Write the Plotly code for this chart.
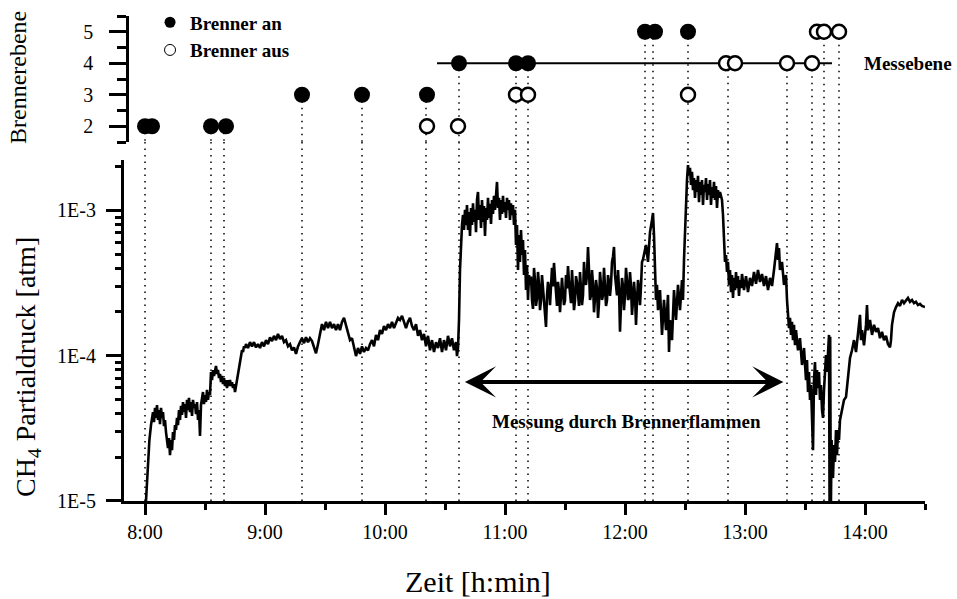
import math
import plotly.graph_objects as go

# ---------------- data (time in minutes since midnight) ----------------
time_min = [
    480.5, 481, 481.5, 482.2, 483, 483.5, 484, 484.5, 485, 485.5, 486, 486.5, 487, 487.5, 488, 488.5, 489, 489.5, 490,
    490.5, 491, 491.5, 492, 492.5, 493, 493.5, 494, 494.5, 495, 495.5, 496, 496.5, 497, 497.5, 498, 498.5, 499, 499.5,
    500, 500.5, 501, 501.5, 502, 502.5, 503, 503.5, 504, 504.5, 505, 505.5, 506, 506.5, 507, 507.5, 508, 508.5, 509,
    509.5, 510, 510.5, 511, 511.5, 512, 512.5, 513, 513.5, 514, 514.5, 515, 515.5, 516, 516.5, 517, 517.5, 518, 518.5,
    519, 519.5, 520, 520.5, 521, 521.5, 522, 522.5, 523, 523.5, 524, 524.5, 525, 525.5, 526, 526.5, 527, 527.5, 528,
    528.5, 529, 529.5, 530, 530.5, 531.5, 532.5, 533.5, 534.5, 535.5, 536.5, 537.5, 538.5, 539.5, 540.5, 541.5, 542.5,
    543.5, 544.5, 545.5, 546.5, 547.5, 548.5, 549.5, 550.5, 551.5, 552.5, 553.5, 554.5, 555.5, 556.5, 557.5, 558.5,
    559.5, 560.5, 561.5, 562.5, 563.5, 564.5, 565.5, 566.5, 567.5, 568.5, 569.5, 570.5, 571.5, 572.5, 573.5, 574.5,
    575.5, 576.5, 577.5, 578.5, 579.5, 580.5, 581.5, 582.5, 583.5, 584.5, 585.5, 586.5, 587.5, 588.5, 589.5, 590.5,
    591.5, 592.5, 593.5, 594.5, 595.5, 596.5, 597.5, 598.5, 599.5, 600.5, 601.5, 602.5, 603.5, 604.5, 605.5, 606.5,
    607.5, 608.5, 609.5, 610.5, 611.5, 612.5, 613.5, 614.5, 615.5, 616.5, 617.5, 618.5, 619.5, 620.5, 621.5, 622.5,
    623.5, 624.5, 625.5, 626.5, 627.5, 628.5, 629.5, 630.5, 631.5, 632.5, 633.5, 634.5, 635.5, 636, 636.5, 637, 637.5,
    638, 638.5, 639, 639.5, 640, 640.5, 641, 641.5, 642, 642.5, 643, 643.5, 644, 644.5, 645, 645.5, 646, 646.5, 647,
    647.5, 648, 648.5, 649, 649.5, 650, 650.5, 651, 651.5, 652, 652.5, 653, 653.5, 654, 654.5, 655, 655.5, 656, 656.5,
    657, 657.5, 658, 658.5, 659, 659.5, 660, 660.5, 661, 661.5, 662, 662.5, 663, 663.5, 664, 664.5, 665, 665.5, 666,
    666.5, 667, 667.5, 668, 668.5, 669, 669.5, 670, 670.5, 671, 671.5, 672, 672.5,
    673, 673.5, 674, 674.5, 675, 675.5, 676, 676.5, 677, 677.5, 678, 678.5, 679, 679.5, 680, 680.5, 681, 681.5,
    682, 682.5, 683, 683.5, 684, 684.5, 685, 685.5, 686, 686.5, 687, 687.5, 688, 688.5, 689, 689.5, 690, 690.5,
    691, 691.5, 692, 692.5, 693, 693.5, 694, 694.5, 695, 695.5, 696, 696.5, 697, 697.5, 698, 698.5, 699, 699.5,
    700, 700.5, 701, 701.5, 702, 702.5, 703, 703.5, 704, 704.5, 705, 705.5, 706, 706.5, 707, 707.5, 708, 708.5,
    709, 709.5, 710, 710.5, 711, 711.5, 712, 712.5, 713, 713.5, 714, 714.5, 715, 715.5, 716, 716.5, 717, 717.5,
    718, 718.5, 719, 719.5, 720, 720.5, 721, 721.5, 722, 722.5, 723, 723.5, 724, 724.5, 725, 725.5, 726, 726.5,
    727, 727.5, 728, 728.5, 729, 729.5,
    730.5, 731.5, 732.5, 733.5, 734, 734.5, 735, 735.5, 736, 736.5, 737.5, 738.5, 739.5,
    740.5, 741.5, 742, 742.5, 743.5, 744.5, 745.5, 746.5, 747.5, 748.5, 749, 749.5, 750, 750.5, 751, 751.5, 752,
    752.5, 753, 753.5, 754, 754.5, 755, 755.5, 756, 756.5, 757, 757.5, 758, 758.5, 759, 759.5, 760, 760.5, 761,
    761.5, 762, 762.5, 763, 763.5, 764, 764.5, 765, 765.5, 766, 766.5, 767, 767.5, 768.5, 769, 769.5, 770, 770.5,
    771, 771.5, 772, 772.5, 773, 773.5, 774, 774.5, 775, 775.5, 776, 776.5, 777, 777.5, 778, 778.5, 779.5, 780.5,
    781.5, 782.5, 783.5, 784.5, 785.5, 786.5, 787.5, 788.5, 789.5, 790.5, 791.5, 792.5, 793.5, 794.5, 795.5, 796,
    796.5, 797, 797.5, 798.5, 799.5, 800.5, 801, 801.5, 802, 802.5, 803, 803.5, 804, 804.5, 805, 805.5, 806.5, 807.5,
    808.5, 809.5, 810.5, 811, 811.5, 812, 812.5, 813, 813.5, 814, 814.5, 815, 815.5, 816, 816.5, 817, 817.5, 818,
    818.5, 819, 819.5, 820, 820.5, 821, 821.5, 822, 822.3, 822.6, 822.9, 823.3, 823.5, 824, 824.5, 825, 825.5, 826,
    826.5, 827, 827.5, 828.5, 829.5, 830.5, 831.5, 832.5, 833.5, 834.5, 835.5, 836.5, 837.5, 838, 838.5, 839.5,
    840.5, 841, 841.5, 842.5, 843.5, 844.5, 845.5, 846.5, 847.5, 848.5, 849.5, 850.5, 851.5, 852.5, 853, 853.5, 854,
    854.5, 855.5, 856.5, 857.5, 858.5, 859.5, 860.5, 861.5, 862.5, 863.5, 864.5, 865.5, 866.5, 867.5, 868.5, 870,
]
ch4_atm = [
    1.00e-5, 1.39e-5, 1.91e-5, 2.63e-5, 3.33e-5, 3.73e-5, 4.09e-5, 3.49e-5, 4.37e-5, 3.73e-5, 4.58e-5, 3.61e-5, 4.23e-5,
    3.38e-5, 4.37e-5, 3.73e-5, 4.09e-5, 3.28e-5, 3.61e-5,
    2.98e-5, 2.63e-5, 2.31e-5, 2.71e-5, 2.07e-5, 2.63e-5, 2.24e-5, 2.98e-5, 2.63e-5, 3.33e-5, 3.08e-5, 3.73e-5, 3.33e-5,
    4.23e-5, 3.61e-5, 4.51e-5, 3.91e-5, 4.80e-5, 4.09e-5,
    4.65e-5, 3.73e-5, 4.96e-5, 4.23e-5, 5.12e-5, 4.09e-5, 4.80e-5, 3.85e-5, 4.96e-5, 4.37e-5, 4.65e-5, 3.97e-5, 4.80e-5,
    3.61e-5, 4.23e-5, 2.80e-5, 4.58e-5, 4.96e-5, 5.62e-5,
    4.65e-5, 5.36e-5, 4.80e-5, 5.81e-5, 4.96e-5, 5.62e-5, 5.36e-5, 7.72e-5, 6.80e-5, 7.97e-5, 7.25e-5, 8.23e-5, 8.50e-5,
    7.48e-5, 7.97e-5, 7.02e-5, 7.48e-5, 6.58e-5, 7.25e-5,
    6.38e-5, 7.02e-5, 6.18e-5, 6.80e-5, 5.99e-5, 6.80e-5, 6.18e-5, 6.80e-5, 6.18e-5, 6.58e-5, 5.99e-5, 6.38e-5, 5.62e-5,
    6.18e-5, 6.80e-5, 7.72e-5, 8.50e-5, 9.34e-5, 9.94e-5,
    1.09e-4, 1.06e-4, 1.16e-4, 1.13e-4, 1.20e-4, 1.13e-4, 1.24e-4, 1.16e-4, 1.24e-4, 1.14e-4, 1.20e-4, 1.13e-4, 1.24e-4,
    1.16e-4, 1.28e-4, 1.20e-4, 1.34e-4,
    1.26e-4, 1.37e-4, 1.28e-4, 1.41e-4, 1.30e-4, 1.37e-4, 1.24e-4, 1.28e-4, 1.16e-4, 1.20e-4, 1.09e-4, 1.14e-4, 1.03e-4,
    1.16e-4, 1.24e-4, 1.32e-4,
    1.22e-4, 1.34e-4, 1.24e-4, 1.32e-4, 1.26e-4, 1.16e-4, 1.04e-4, 1.20e-4, 1.41e-4, 1.65e-4, 1.50e-4, 1.71e-4, 1.55e-4,
    1.71e-4, 1.55e-4, 1.65e-4,
    1.50e-4, 1.65e-4, 1.50e-4, 1.71e-4, 1.82e-4, 1.60e-4, 1.41e-4, 1.28e-4, 1.32e-4, 1.16e-4, 9.94e-5, 1.13e-4, 1.03e-4,
    1.16e-4, 1.06e-4, 1.13e-4,
    1.09e-4, 1.20e-4, 1.28e-4, 1.16e-4, 1.39e-4, 1.28e-4, 1.50e-4, 1.41e-4, 1.60e-4, 1.50e-4, 1.65e-4, 1.55e-4, 1.71e-4,
    1.55e-4, 1.71e-4, 1.82e-4,
    1.76e-4, 1.88e-4, 1.71e-4, 1.55e-4, 1.71e-4, 1.82e-4, 1.60e-4, 1.50e-4, 1.65e-4, 1.37e-4, 1.50e-4, 1.28e-4, 1.41e-4,
    1.16e-4, 1.37e-4, 1.09e-4,
    1.28e-4, 1.06e-4, 1.24e-4, 1.13e-4, 1.32e-4, 1.06e-4, 1.28e-4, 1.09e-4, 1.37e-4, 1.16e-4, 1.32e-4, 1.09e-4, 1.24e-4,
    9.94e-5, 1.13e-4, 1.76e-4, 3.89e-4,
    6.26e-4, 7.93e-4, 9.30e-4, 7.33e-4, 1.01e-3, 7.93e-4, 1.09e-3, 7.33e-4, 9.75e-4, 6.66e-4, 1.04e-3, 7.93e-4, 1.12e-3,
    8.32e-4, 1.01e-3, 7.09e-4, 1.18e-3, 1.34e-3, 8.59e-4,
    1.09e-3, 7.57e-4, 1.18e-3, 8.32e-4, 1.07e-3, 6.66e-4, 1.04e-3, 8.59e-4, 1.22e-3, 8.87e-4, 1.11e-3, 8.06e-4, 1.18e-3,
    9.45e-4, 1.26e-3, 1.01e-3, 1.30e-3, 1.57e-3, 1.04e-3,
    1.22e-3, 8.59e-4, 1.18e-3, 9.45e-4, 1.26e-3, 9.75e-4, 1.14e-3, 8.87e-4, 1.22e-3, 1.01e-3, 1.18e-3, 8.59e-4, 1.12e-3,
    9.30e-4, 1.09e-3, 7.93e-4, 1.01e-3, 5.78e-4, 7.93e-4,
    3.89e-4, 6.77e-4, 4.42e-4, 7.33e-4, 4.93e-4, 6.26e-4, 3.59e-4, 5.34e-4, 2.83e-4, 4.21e-4, 2.42e-4, 3.59e-4, 3.07e-4,
    3.5e-4, 2.42e-4, 2.1e-4, 4.02e-4, 3.3e-4, 2.20e-4, 2.5e-4, 3.77e-4, 3.1e-4, 2.06e-4, 2.4e-4, 3.59e-4, 3.0e-4,
    2.42e-4, 2.0e-4, 1.58e-4, 2.6e-4, 3.22e-4, 2.9e-4, 2.23e-4, 3.0e-4, 4.02e-4, 3.0e-4, 4.35e-4, 3.4e-4, 2.42e-4,
    2.2e-4, 3.22e-4, 2.8e-4, 1.99e-4, 2.6e-4, 3.43e-4, 2.7e-4, 2.23e-4, 2.4e-4, 3.59e-4, 2.9e-4, 4.14e-4, 3.2e-4,
    2.62e-4, 2.3e-4, 3.89e-4, 3.0e-4, 2.06e-4, 2.4e-4, 3.53e-4, 3.2e-4, 2.42e-4, 2.2e-4, 3.77e-4, 3.0e-4, 2.23e-4,
    2.6e-4, 4.42e-4, 3.3e-4, 3.07e-4, 3.6e-4, 5.60e-4, 3.9e-4, 2.42e-4, 2.6e-4, 3.89e-4, 3.1e-4, 1.99e-4, 2.5e-4,
    3.32e-4, 2.9e-4, 1.82e-4, 2.3e-4, 3.77e-4, 3.1e-4, 2.42e-4, 2.6e-4, 4.02e-4, 3.0e-4, 2.20e-4, 2.4e-4, 3.59e-4,
    3.2e-4, 2.58e-4, 3.1e-4, 4.42e-4, 4.8e-4, 5.60e-4, 3.6e-4, 2.83e-4, 2.6e-4, 3.89e-4, 2.9e-4, 1.46e-4, 2.2e-4,
    3.43e-4, 3.0e-4, 2.06e-4, 2.6e-4, 4.02e-4, 3.3e-4, 2.42e-4, 2.5e-4, 3.77e-4, 3.0e-4, 1.91e-4, 2.4e-4, 3.22e-4,
    2.6e-4, 1.63e-4, 2.4e-4, 3.32e-4, 2.9e-4, 2.23e-4, 3.0e-4, 4.42e-4, 4.6e-4, 4.93e-4,
    5.78e-4, 4.42e-4, 7.09e-4, 8.59e-4, 9.60e-4, 6.77e-4, 4.56e-4, 2.42e-4, 3.07e-4,
    2.06e-4, 2.83e-4, 1.39e-4, 2.42e-4,
    1.50e-4, 2.62e-4, 1.06e-4, 1.76e-4, 1.28e-4, 2.83e-4, 1.76e-4, 3.07e-4, 2.06e-4, 3.32e-4, 2.42e-4, 4.56e-4, 7.33e-4,
    1.18e-3, 1.62e-3, 2.05e-3, 1.75e-3,
    1.96e-3, 1.50e-3, 1.84e-3, 1.38e-3, 1.67e-3, 1.22e-3, 1.62e-3, 1.34e-3, 1.73e-3, 1.14e-3, 1.57e-3, 1.28e-3, 1.62e-3,
    1.09e-3, 1.50e-3, 1.34e-3, 1.67e-3, 1.18e-3,
    1.52e-3, 1.28e-3, 1.62e-3, 1.09e-3, 1.45e-3, 1.22e-3, 1.57e-3, 1.18e-3, 1.47e-3, 1.04e-3, 1.38e-3, 1.22e-3, 1.34e-3,
    1.18e-3, 9.30e-4, 6.26e-4, 4.42e-4, 4.93e-4,
    3.77e-4, 4.42e-4, 3.07e-4, 3.89e-4, 2.74e-4, 3.59e-4, 2.50e-4, 3.43e-4, 2.83e-4, 3.77e-4, 2.92e-4, 3.53e-4, 2.58e-4,
    3.32e-4, 2.92e-4, 3.65e-4, 2.83e-4, 3.53e-4,
    2.74e-4, 3.43e-4, 3.02e-4, 3.77e-4, 3.12e-4, 3.89e-4, 3.22e-4, 3.65e-4, 3.02e-4, 3.53e-4, 2.83e-4, 3.43e-4, 3.02e-4,
    3.89e-4, 5.34e-4, 5.96e-4,
    4.56e-4, 5.51e-4, 3.89e-4, 4.42e-4, 3.07e-4, 3.59e-4, 2.42e-4, 1.76e-4, 1.55e-4, 1.82e-4, 1.39e-4, 1.71e-4, 1.28e-4,
    1.63e-4, 1.18e-4, 1.50e-4, 1.09e-4, 1.32e-4,
    8.63e-5, 1.13e-4, 6.80e-5, 9.34e-5, 5.62e-5, 7.72e-5, 4.96e-5, 6.28e-5, 4.23e-5, 2.24e-5, 6.80e-5, 9.04e-5, 5.36e-5,
    7.97e-5, 5.99e-5, 7.72e-5, 4.96e-5, 6.28e-5,
    4.23e-5, 3.73e-5, 5.81e-5, 7.97e-5, 1.01e-4, 7.72e-5, 1.09e-4, 1.39e-4, 8.0e-6, 1.35e-4, 8.0e-6, 2.63e-5, 1.63e-5,
    1.44e-5, 2.43e-5, 1.86e-5, 3.08e-5, 2.07e-5,
    3.08e-5, 2.63e-5, 3.61e-5, 4.23e-5, 4.96e-5, 5.19e-5, 7.36e-5, 9.64e-5, 1.09e-4, 1.28e-4, 1.06e-4, 1.41e-4, 1.91e-4,
    1.28e-4, 1.50e-4, 1.18e-4,
    1.63e-4, 2.23e-4, 1.50e-4, 1.76e-4, 1.39e-4, 1.63e-4, 1.46e-4, 1.55e-4, 1.32e-4, 1.46e-4, 1.28e-4, 1.37e-4, 1.20e-4,
    1.14e-4, 1.28e-4, 1.63e-4, 1.85e-4,
    1.99e-4, 2.16e-4, 2.30e-4, 2.20e-4, 2.42e-4, 2.30e-4, 2.42e-4, 2.50e-4, 2.35e-4, 2.42e-4, 2.30e-4, 2.35e-4, 2.23e-4,
    2.27e-4, 2.20e-4, 2.16e-4,
]

# burner switching events (time in minutes, burner level)
an_time = [480, 483.5, 513, 520.5, 558.5, 588.5, 621, 637, 665.5, 671.5, 730, 735, 751.5]
an_level = [2, 2, 2, 2, 3, 3, 3, 4, 4, 4, 5, 5, 5]
aus_time = [621, 636.5, 665.5, 671.5, 751.5, 770.5, 775, 801, 813.5, 816, 819.5, 827]
aus_level = [2, 2, 3, 3, 3, 4, 4, 4, 4, 5, 5, 5]

# dotted guide lines: time and topmost burner level
switch_time = [480, 513, 519.5, 558.5, 588.5, 620.5, 637, 665.5, 671.5, 730, 734, 751.5, 771.5, 801, 813.5, 819.5, 827]
switch_level = [2, 2, 2, 3, 3, 3, 4, 4, 4, 5, 5, 5, 4, 4, 4, 5, 5]

# measurement level line
mess_span = [626, 823.5]
mess_level = 4

# "Messung durch Brennerflammen" period arrow
arrow_span = [639.2, 799.2]
arrow_level = 6.6e-5

hour_ticks = [480, 540, 600, 660, 720, 780, 840]
hour_labels = ["8:00", "9:00", "10:00", "11:00", "12:00", "13:00", "14:00"]
half_ticks = [510, 570, 630, 690, 750, 810, 870]
y_ticks = [1e-5, 1e-4, 1e-3]
y_labels = ["1E-5", "1E-4", "1E-3"]
level_ticks = [2, 3, 4, 5]
level_labels = ["2", "3", "4", "5"]

SERIF = "Liberation Serif"
DOM_MAIN = [0, 0.7031]
DOM_TOP = [0.7402, 1]

fig = go.Figure()

# top panel dotted guides (from marker down to panel bottom)
gx, gy = [], []
for t, lv in zip(switch_time, switch_level):
    gx += [t, t, None]
    gy += [lv, 1.5, None]
fig.add_trace(go.Scatter(x=gx, y=gy, mode="lines", xaxis="x2", yaxis="y2",
                         line=dict(color="black", width=1.5, dash="1.5px,5px"),
                         showlegend=False, hoverinfo="skip"))
# Messebene line
fig.add_trace(go.Scatter(x=mess_span, y=[mess_level, mess_level], mode="lines", xaxis="x2", yaxis="y2",
                         line=dict(color="black", width=2), showlegend=False, hoverinfo="skip"))
# burner markers
fig.add_trace(go.Scatter(x=an_time, y=an_level, mode="markers", xaxis="x2", yaxis="y2",
                         marker=dict(symbol="circle", size=16, color="black", line=dict(width=0)),
                         showlegend=False))
fig.add_trace(go.Scatter(x=aus_time, y=aus_level, mode="markers", xaxis="x2", yaxis="y2",
                         marker=dict(symbol="circle", size=14, color="white", line=dict(width=2.5, color="black")),
                         showlegend=False))
# legend entries
fig.add_trace(go.Scatter(x=[None], y=[None], mode="markers", xaxis="x2", yaxis="y2", name="<b>Brenner an</b>",
                         marker=dict(symbol="circle", size=11, color="black")))
fig.add_trace(go.Scatter(x=[None], y=[None], mode="markers", xaxis="x2", yaxis="y2", name="<b>Brenner aus</b>",
                         marker=dict(symbol="circle-open", size=11, color="black", line=dict(width=1))))

# main CH4 trace
fig.add_trace(go.Scatter(x=time_min, y=ch4_atm, mode="lines", xaxis="x", yaxis="y",
                         line=dict(color="black", width=2.6), showlegend=False))

shapes = []
for t in switch_time:
    shapes.append(dict(type="line", xref="x", yref="paper", x0=t, x1=t, y0=0, y1=DOM_TOP[0],
                       line=dict(color="black", width=1.5, dash="1.5px,5px"), layer="above"))

annotations = [
    dict(xref="paper", yref="y2", x=0.921, y=mess_level, text="<b>Messebene</b>", showarrow=False,
         xanchor="left", yanchor="middle", font=dict(family=SERIF, size=19, color="black")),
    dict(xref="x", yref="y", x=arrow_span[1], y=math.log10(arrow_level),
         axref="x", ayref="y", ax=arrow_span[0], ay=math.log10(arrow_level), text="",
         showarrow=True, arrowhead=3, startarrowhead=3, arrowside="end+start",
         arrowwidth=4, arrowsize=1.3, startarrowsize=1.3, arrowcolor="black"),
    dict(xref="x", yref="y", x=720.75, y=-4.454, text="<b>Messung durch Brennerflammen</b>",
         showarrow=False, font=dict(family=SERIF, size=19, color="black")),
    # axis titles
    dict(xref="paper", yref="paper", x=-0.1199, y=0.2763, text="CH<sub>4</sub> Partialdruck [atm]",
         textangle=-90, showarrow=False, xanchor="center", yanchor="middle",
         font=dict(family=SERIF, size=28, color="black")),
    dict(xref="paper", yref="paper", x=-0.1323, y=0.8722, text="Brennerebene",
         textangle=-90, showarrow=False, xanchor="center", yanchor="middle",
         font=dict(family=SERIF, size=24, color="black")),
    dict(xref="paper", yref="paper", x=0.4419, y=-0.167, text="Zeit [h:min]",
         showarrow=False, xanchor="center", yanchor="middle",
         font=dict(family=SERIF, size=30, color="black")),
]

axis_common = dict(showgrid=False, zeroline=False, showline=True, linecolor="black", color="black")

fig.update_layout(
    width=957, height=599,
    margin=dict(l=124, r=32, t=16, b=98, autoexpand=False),
    paper_bgcolor="white", plot_bgcolor="rgba(0,0,0,0)",
    font=dict(family=SERIF, color="black"),
    xaxis=dict(**axis_common, domain=[0, 1], anchor="y", range=[469.5, 870], linewidth=3,
               ticks="outside", ticklen=11, tickwidth=3, tickcolor="black",
               tickmode="array", tickvals=hour_ticks, ticktext=hour_labels,
               tickfont=dict(family=SERIF, size=20),
               minor=dict(tickmode="array", tickvals=half_ticks, ticks="outside", ticklen=6, tickwidth=3,
                          tickcolor="black")),
    yaxis=dict(**axis_common, domain=DOM_MAIN, anchor="x", type="log", range=[-5, -2.653], linewidth=3,
               ticks="outside", ticklen=15, tickwidth=2.5, tickcolor="black",
               tickmode="array", tickvals=y_ticks, ticktext=y_labels,
               tickfont=dict(family=SERIF, size=20), ticklabelstandoff=6,
               minor=dict(tickmode="array",
                          tickvals=[k * 10 ** e for e in (-5, -4, -3) for k in range(2, 10)],
                          ticks="outside", ticklen=6, tickwidth=2.5, tickcolor="black")),
    xaxis2=dict(domain=[0, 1], anchor="y2", matches="x", visible=False, range=[469.5, 870]),
    yaxis2=dict(**axis_common, domain=DOM_TOP, anchor="free", position=0.004, range=[1.5, 5.5], linewidth=3,
                ticks="outside", ticklen=17, tickwidth=3, tickcolor="black",
                tickmode="array", tickvals=level_ticks, ticktext=level_labels,
                tickfont=dict(family=SERIF, size=20), ticklabelstandoff=12,
                minor=dict(tickmode="array", tickvals=[1.5, 2.5, 3.5, 4.5, 5.5], ticks="outside", ticklen=9,
                           tickwidth=3, tickcolor="black")),
    legend=dict(x=0.0325, y=1.026, xanchor="left", yanchor="top", bgcolor="rgba(0,0,0,0)",
                font=dict(family=SERIF, size=19, color="black"), tracegroupgap=0, itemwidth=30),
    shapes=shapes,
    annotations=annotations,
)

# remove the browser's default page margin so the figure sits at the window origin
fig.write_html("out.html", config={"displayModeBar": False},
               post_script="document.body.style.margin='0';document.documentElement.style.overflow='hidden';")
